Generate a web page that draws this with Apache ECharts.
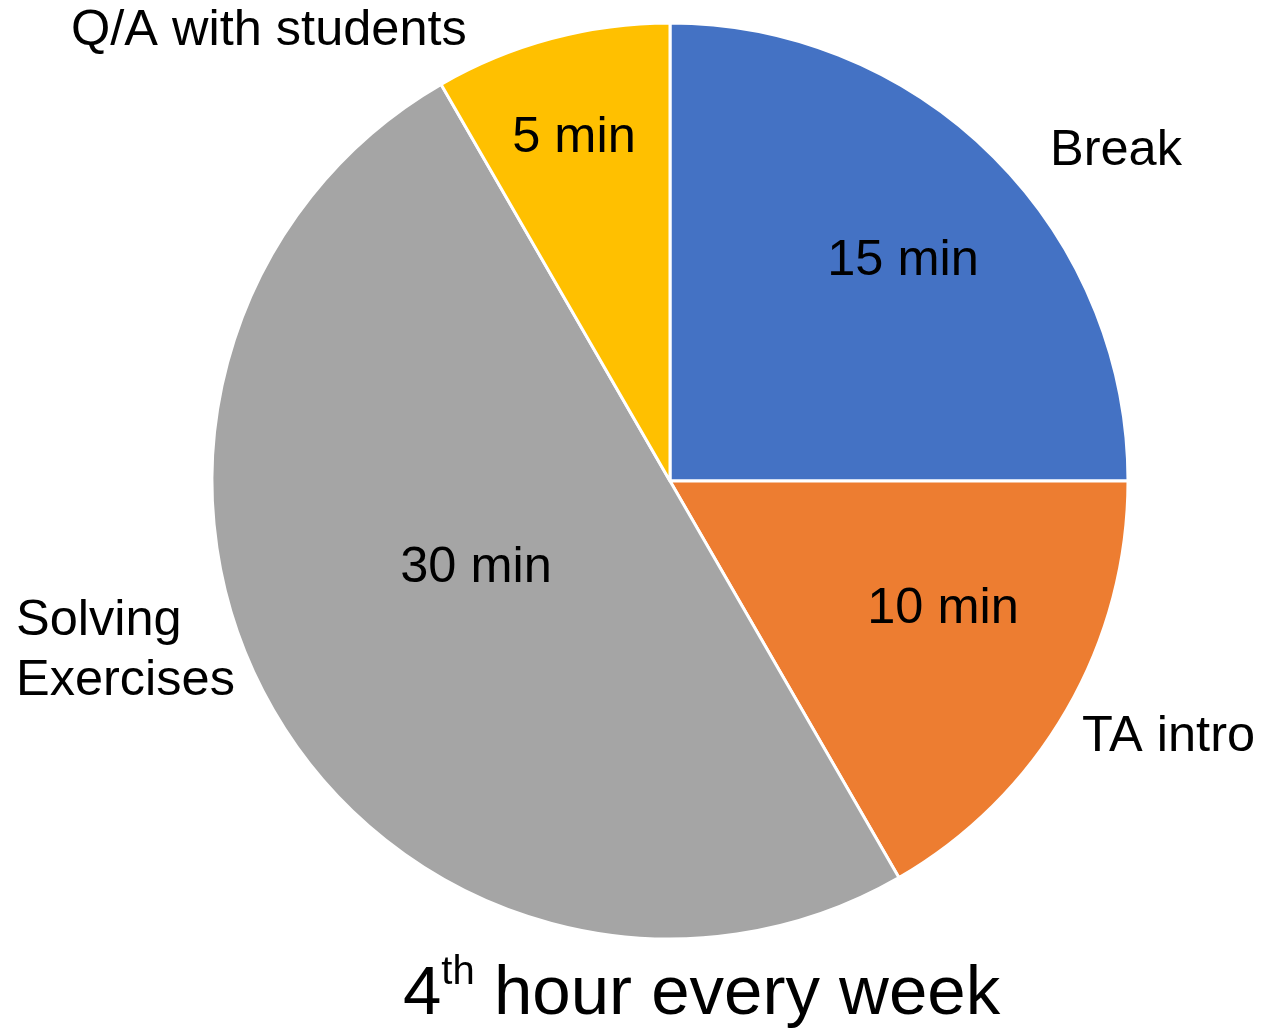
<!DOCTYPE html>
<html>
<head>
<meta charset="utf-8">
<title>4th hour every week</title>
<script src="https://cdn.jsdelivr.net/npm/echarts@6/dist/echarts.min.js"></script>
<style>
  html, body { margin: 0; padding: 0; background: #ffffff; }
  #chart { width: 1263px; height: 1029px; }
</style>
</head>
<body>
<div id="chart"></div>
<script>
// Time split of the weekly 4th hour (minutes)
const categories = ['Break', 'TA intro', 'Solving\nExercises', 'Q/A with students'];
const minutes = [15, 10, 30, 5];
const sliceColors = ['#4472C4', '#ED7D31', '#A5A5A5', '#FFC000'];

// Layout: pie geometry and label anchor points (px)
const PIE_CENTER = [670, 481];
const PIE_RADIUS = 458;
const valueLabelAnchors = [[903, 261], [943, 609], [476, 568], [574, 138]];
const nameLabelAnchors = [[1050, 151], [1082, 737], [16, 651], [71, 31]];

const FONT = "'Liberation Sans', Arial, Helvetica, sans-serif";
const LABEL_SIZE = 50.5;

const chart = echarts.init(document.getElementById('chart'), null, { renderer: 'canvas' });

const sliceData = categories.map((name, i) => ({
  name: name,
  value: minutes[i],
  itemStyle: { color: sliceColors[i] }
}));

chart.setOption({
  animation: false,
  backgroundColor: '#ffffff',
  title: {
    text: '{n|4}{s|th}{n| hour every week}',
    left: 403,
    top: 953,
    padding: 0,
    textStyle: {
      fontWeight: 'normal',
      rich: {
        n: { fontFamily: FONT, fontSize: 69, fontWeight: 'normal', lineHeight: 84, color: '#000000' },
        s: { fontFamily: FONT, fontSize: 40, fontWeight: 'normal', lineHeight: 64, color: '#000000', verticalAlign: 'top' }
      }
    }
  },
  series: [
    {
      // coloured slices with the minute counts
      type: 'pie',
      center: PIE_CENTER,
      radius: [0, PIE_RADIUS],
      startAngle: 90,
      clockwise: true,
      avoidLabelOverlap: false,
      silent: true,
      emphasis: { disabled: true },
      itemStyle: { borderColor: '#ffffff', borderWidth: 3 },
      label: {
        show: true,
        position: 'inside',
        formatter: (p) => p.value + ' min',
        fontFamily: FONT,
        fontSize: LABEL_SIZE,
        color: '#000000'
      },
      labelLine: { show: false },
      labelLayout: (p) => {
        const a = valueLabelAnchors[p.dataIndex];
        return { x: a[0], y: a[1], align: 'center', verticalAlign: 'middle' };
      },
      data: sliceData
    },
    {
      // category names placed around the pie
      type: 'pie',
      center: PIE_CENTER,
      radius: [0, PIE_RADIUS],
      startAngle: 90,
      clockwise: true,
      avoidLabelOverlap: false,
      silent: true,
      emphasis: { disabled: true },
      itemStyle: { color: 'rgba(0,0,0,0)', borderWidth: 0 },
      label: {
        show: true,
        position: 'outside',
        formatter: '{b}',
        fontFamily: FONT,
        fontSize: LABEL_SIZE,
        lineHeight: 60,
        color: '#000000',
        align: 'left'
      },
      labelLine: { show: false },
      labelLayout: (p) => {
        const a = nameLabelAnchors[p.dataIndex];
        return { x: a[0], y: a[1], align: 'left', verticalAlign: 'middle' };
      },
      data: categories.map((name, i) => ({ name: name, value: minutes[i] }))
    }
  ]
});
</script>
</body>
</html>
